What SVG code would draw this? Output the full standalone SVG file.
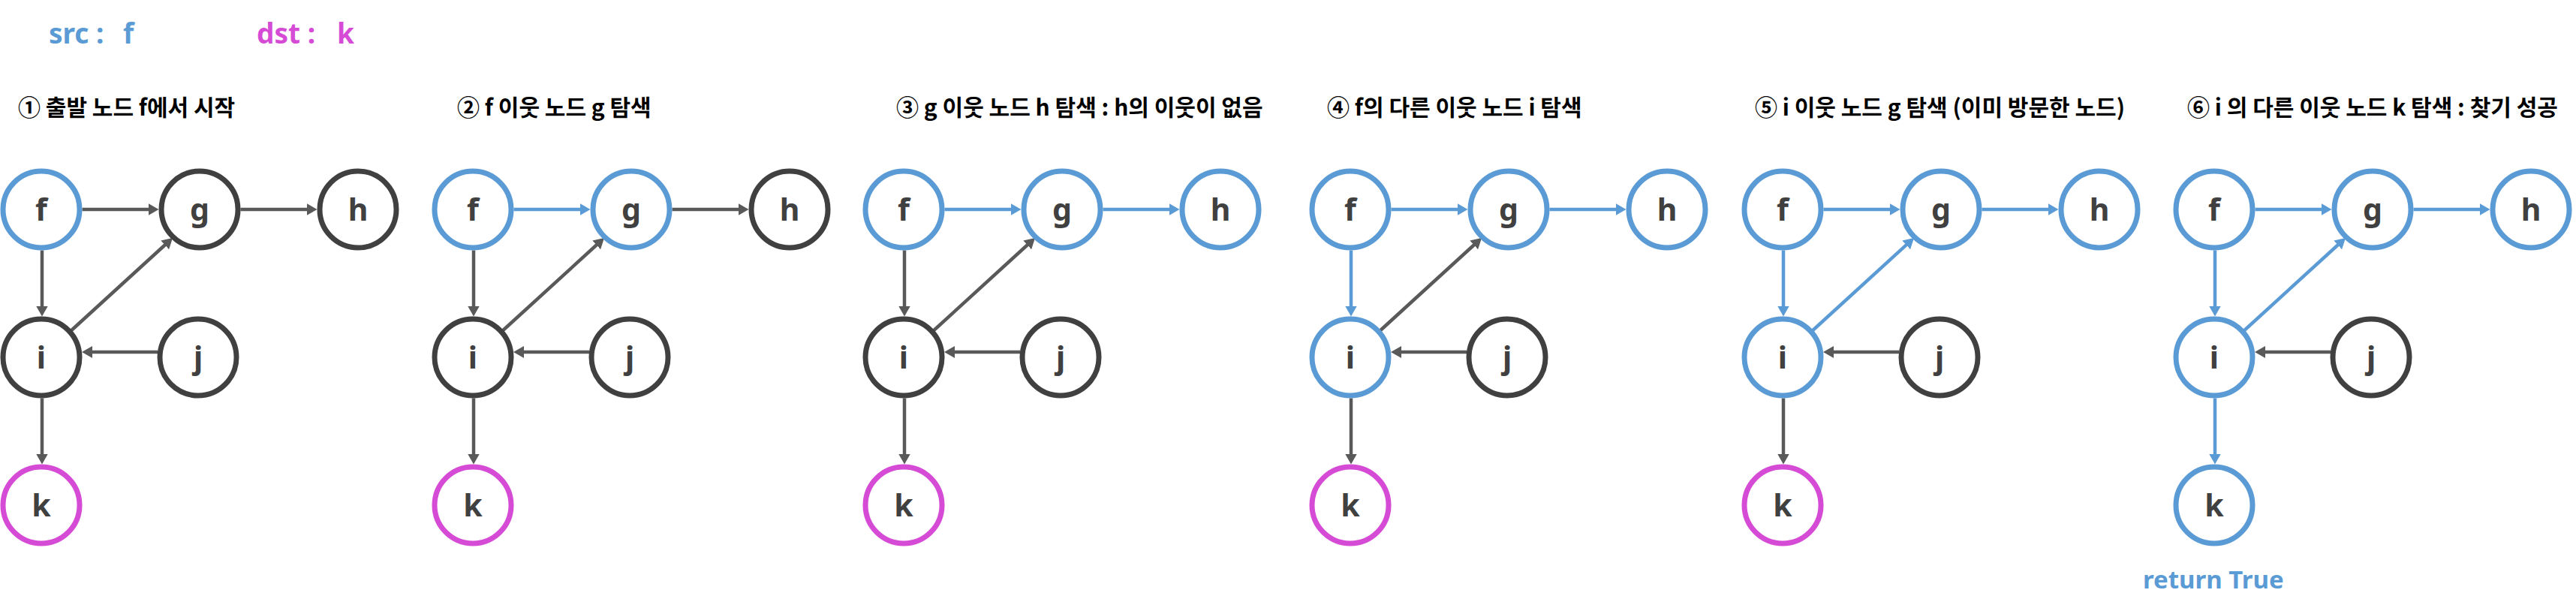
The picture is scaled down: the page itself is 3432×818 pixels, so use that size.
<svg xmlns="http://www.w3.org/2000/svg" width="3432" height="818" viewBox="0 0 3432 818">
<style>
.bg{fill:#ffffff}
.n{fill:#ffffff;stroke-width:7}
.blue{stroke:#5B9BD5}
.dark{stroke:#404040}
.mag{stroke:#D64BD6}
.lbl{font-family:"Noto Sans","Open Sans",sans-serif;font-weight:700;font-size:41px;fill:#404040;text-anchor:middle}
.title{font-family:"Noto Sans CJK KR","Noto Sans",sans-serif;font-weight:700;font-size:30px;fill:#000000}
.hdr{font-family:"Noto Sans","Noto Sans CJK KR",sans-serif;font-weight:700;font-size:37px}
.e{fill:none;stroke-width:4.5}
.eg{stroke:#595959;marker-end:url(#ag)}
.eb{stroke:#5B9BD5;marker-end:url(#ab)}
</style>
<defs>
<marker id="ag" viewBox="0 0 14 16" refX="8" refY="8" markerWidth="14" markerHeight="16" markerUnits="userSpaceOnUse" orient="auto"><path d="M0,0 L14,8 L0,16 z" fill="#595959"/></marker>
<marker id="ab" viewBox="0 0 14 16" refX="8" refY="8" markerWidth="14" markerHeight="16" markerUnits="userSpaceOnUse" orient="auto"><path d="M0,0 L14,8 L0,16 z" fill="#5B9BD5"/></marker>
</defs>
<rect class="bg" x="0" y="0" width="3432" height="818"/>

<g id="header">
<text class="hdr" x="65" y="58" fill="#5B9BD5">src :<tspan x="164">f</tspan></text>
<text class="hdr" x="342" y="58" fill="#D64BD6">dst :<tspan x="449">k</tspan></text>
</g>

<g id="titles">
<text class="title" x="24" y="154">① 출발 노드 f에서 시작</text>
<text class="title" x="609" y="154">② f 이웃 노드 g 탐색</text>
<text class="title" x="1194" y="154">③ g 이웃 노드 h 탐색 : h의 이웃이 없음</text>
<text class="title" x="1768" y="154">④ f의 다른 이웃 노드 i 탐색</text>
<text class="title" x="2338" y="154">⑤ i 이웃 노드 g 탐색 (이미 방문한 노드)</text>
<text class="title" x="2914" y="154">⑥ i 의 다른 이웃 노드 k 탐색 : 찾기 성공</text>
</g>

<!-- Panel 1 -->
<g id="panel1">
<g id="p1-connectors">
<line class="e eg" x1="109.5" y1="279" x2="205.5" y2="279"/>
<line class="e eg" x1="320.5" y1="279" x2="416.5" y2="279"/>
<line class="e eg" x1="56" y1="333.5" x2="56" y2="415.5"/>
<line class="e eg" x1="56" y1="530.5" x2="56" y2="612.5"/>
<line class="e eg" x1="210" y1="469" x2="115" y2="469"/>
<line class="e eg" x1="92" y1="443" x2="225.6" y2="321"/>
</g>
<g id="p1-f"><circle class="n blue" cx="55" cy="279" r="51"/><text class="lbl" x="55" y="294">f</text></g>
<g id="p1-g"><circle class="n dark" cx="266" cy="279" r="51"/><text class="lbl" x="266" y="294">g</text></g>
<g id="p1-h"><circle class="n dark" cx="477" cy="279" r="51"/><text class="lbl" x="477" y="294">h</text></g>
<g id="p1-i"><circle class="n dark" cx="55" cy="476" r="51"/><text class="lbl" x="55" y="491">i</text></g>
<g id="p1-j"><circle class="n dark" cx="264" cy="476" r="51"/><text class="lbl" x="264" y="491">j</text></g>
<g id="p1-k"><circle class="n mag" cx="55" cy="673" r="51"/><text class="lbl" x="55" y="688">k</text></g>
</g>

<!-- Panel 2 -->
<g id="panel2" transform="translate(575,0)">
<g id="p2-connectors">
<line class="e eb" x1="109.5" y1="279" x2="205.5" y2="279"/>
<line class="e eg" x1="320.5" y1="279" x2="416.5" y2="279"/>
<line class="e eg" x1="56" y1="333.5" x2="56" y2="415.5"/>
<line class="e eg" x1="56" y1="530.5" x2="56" y2="612.5"/>
<line class="e eg" x1="210" y1="469" x2="115" y2="469"/>
<line class="e eg" x1="92" y1="443" x2="225.6" y2="321"/>
</g>
<g id="p2-f"><circle class="n blue" cx="55" cy="279" r="51"/><text class="lbl" x="55" y="294">f</text></g>
<g id="p2-g"><circle class="n blue" cx="266" cy="279" r="51"/><text class="lbl" x="266" y="294">g</text></g>
<g id="p2-h"><circle class="n dark" cx="477" cy="279" r="51"/><text class="lbl" x="477" y="294">h</text></g>
<g id="p2-i"><circle class="n dark" cx="55" cy="476" r="51"/><text class="lbl" x="55" y="491">i</text></g>
<g id="p2-j"><circle class="n dark" cx="264" cy="476" r="51"/><text class="lbl" x="264" y="491">j</text></g>
<g id="p2-k"><circle class="n mag" cx="55" cy="673" r="51"/><text class="lbl" x="55" y="688">k</text></g>
</g>

<!-- Panel 3 -->
<g id="panel3" transform="translate(1149,0)">
<g id="p3-connectors">
<line class="e eb" x1="109.5" y1="279" x2="205.5" y2="279"/>
<line class="e eb" x1="320.5" y1="279" x2="416.5" y2="279"/>
<line class="e eg" x1="56" y1="333.5" x2="56" y2="415.5"/>
<line class="e eg" x1="56" y1="530.5" x2="56" y2="612.5"/>
<line class="e eg" x1="210" y1="469" x2="115" y2="469"/>
<line class="e eg" x1="92" y1="443" x2="225.6" y2="321"/>
</g>
<g id="p3-f"><circle class="n blue" cx="55" cy="279" r="51"/><text class="lbl" x="55" y="294">f</text></g>
<g id="p3-g"><circle class="n blue" cx="266" cy="279" r="51"/><text class="lbl" x="266" y="294">g</text></g>
<g id="p3-h"><circle class="n blue" cx="477" cy="279" r="51"/><text class="lbl" x="477" y="294">h</text></g>
<g id="p3-i"><circle class="n dark" cx="55" cy="476" r="51"/><text class="lbl" x="55" y="491">i</text></g>
<g id="p3-j"><circle class="n dark" cx="264" cy="476" r="51"/><text class="lbl" x="264" y="491">j</text></g>
<g id="p3-k"><circle class="n mag" cx="55" cy="673" r="51"/><text class="lbl" x="55" y="688">k</text></g>
</g>

<!-- Panel 4 -->
<g id="panel4" transform="translate(1744,0)">
<g id="p4-connectors">
<line class="e eb" x1="109.5" y1="279" x2="205.5" y2="279"/>
<line class="e eb" x1="320.5" y1="279" x2="416.5" y2="279"/>
<line class="e eb" x1="56" y1="333.5" x2="56" y2="415.5"/>
<line class="e eg" x1="56" y1="530.5" x2="56" y2="612.5"/>
<line class="e eg" x1="210" y1="469" x2="115" y2="469"/>
<line class="e eg" x1="92" y1="443" x2="225.6" y2="321"/>
</g>
<g id="p4-f"><circle class="n blue" cx="55" cy="279" r="51"/><text class="lbl" x="55" y="294">f</text></g>
<g id="p4-g"><circle class="n blue" cx="266" cy="279" r="51"/><text class="lbl" x="266" y="294">g</text></g>
<g id="p4-h"><circle class="n blue" cx="477" cy="279" r="51"/><text class="lbl" x="477" y="294">h</text></g>
<g id="p4-i"><circle class="n blue" cx="55" cy="476" r="51"/><text class="lbl" x="55" y="491">i</text></g>
<g id="p4-j"><circle class="n dark" cx="264" cy="476" r="51"/><text class="lbl" x="264" y="491">j</text></g>
<g id="p4-k"><circle class="n mag" cx="55" cy="673" r="51"/><text class="lbl" x="55" y="688">k</text></g>
</g>

<!-- Panel 5 -->
<g id="panel5" transform="translate(2320,0)">
<g id="p5-connectors">
<line class="e eb" x1="109.5" y1="279" x2="205.5" y2="279"/>
<line class="e eb" x1="320.5" y1="279" x2="416.5" y2="279"/>
<line class="e eb" x1="56" y1="333.5" x2="56" y2="415.5"/>
<line class="e eg" x1="56" y1="530.5" x2="56" y2="612.5"/>
<line class="e eg" x1="210" y1="469" x2="115" y2="469"/>
<line class="e eb" x1="92" y1="443" x2="225.6" y2="321"/>
</g>
<g id="p5-f"><circle class="n blue" cx="55" cy="279" r="51"/><text class="lbl" x="55" y="294">f</text></g>
<g id="p5-g"><circle class="n blue" cx="266" cy="279" r="51"/><text class="lbl" x="266" y="294">g</text></g>
<g id="p5-h"><circle class="n blue" cx="477" cy="279" r="51"/><text class="lbl" x="477" y="294">h</text></g>
<g id="p5-i"><circle class="n blue" cx="55" cy="476" r="51"/><text class="lbl" x="55" y="491">i</text></g>
<g id="p5-j"><circle class="n dark" cx="264" cy="476" r="51"/><text class="lbl" x="264" y="491">j</text></g>
<g id="p5-k"><circle class="n mag" cx="55" cy="673" r="51"/><text class="lbl" x="55" y="688">k</text></g>
</g>

<!-- Panel 6 -->
<g id="panel6" transform="translate(2895,0)">
<g id="p6-connectors">
<line class="e eb" x1="109.5" y1="279" x2="205.5" y2="279"/>
<line class="e eb" x1="320.5" y1="279" x2="416.5" y2="279"/>
<line class="e eb" x1="56" y1="333.5" x2="56" y2="415.5"/>
<line class="e eb" x1="56" y1="530.5" x2="56" y2="612.5"/>
<line class="e eg" x1="210" y1="469" x2="115" y2="469"/>
<line class="e eb" x1="92" y1="443" x2="225.6" y2="321"/>
</g>
<g id="p6-f"><circle class="n blue" cx="55" cy="279" r="51"/><text class="lbl" x="55" y="294">f</text></g>
<g id="p6-g"><circle class="n blue" cx="266" cy="279" r="51"/><text class="lbl" x="266" y="294">g</text></g>
<g id="p6-h"><circle class="n blue" cx="477" cy="279" r="51"/><text class="lbl" x="477" y="294">h</text></g>
<g id="p6-i"><circle class="n blue" cx="55" cy="476" r="51"/><text class="lbl" x="55" y="491">i</text></g>
<g id="p6-j"><circle class="n dark" cx="264" cy="476" r="51"/><text class="lbl" x="264" y="491">j</text></g>
<g id="p6-k"><circle class="n blue" cx="55" cy="673" r="51"/><text class="lbl" x="55" y="688">k</text></g>
<text id="p6-result" x="-40" y="784" font-family="Noto Sans, sans-serif" font-weight="700" font-size="33" fill="#5B9BD5">return True</text>
</g>
</svg>
